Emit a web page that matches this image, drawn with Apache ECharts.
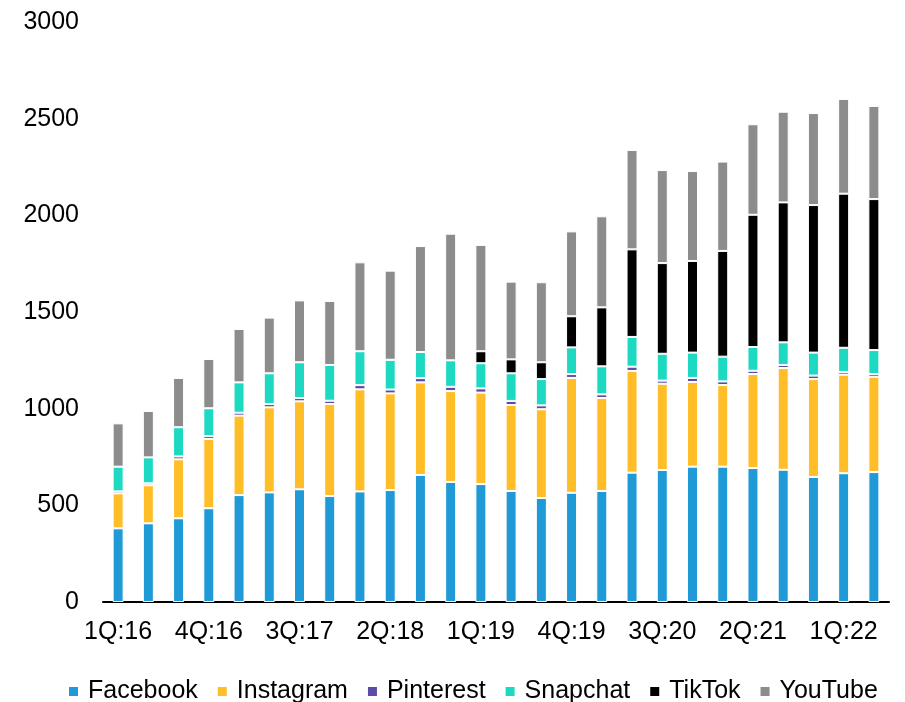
<!DOCTYPE html>
<html>
<head>
<meta charset="utf-8">
<script src="https://cdn.jsdelivr.net/npm/echarts@6/dist/echarts.min.js"></script>
<style>
    html, body { margin: 0; padding: 0; background: #fff; }
    #chart { width: 905px; height: 702px; }
</style>
</head>
<body>
<div id="chart"></div>
<script>
var quarters = ['1Q:16', '2Q:16', '3Q:16', '4Q:16', '1Q:17', '2Q:17', '3Q:17', '4Q:17',
    '1Q:18', '2Q:18', '3Q:18', '4Q:18', '1Q:19', '2Q:19', '3Q:19', '4Q:19',
    '1Q:20', '2Q:20', '3Q:20', '4Q:20', '1Q:21', '2Q:21', '3Q:21', '4Q:21', '1Q:22', '2Q:22'];

var facebook = [381, 407, 433, 485, 553, 567, 583, 548, 572, 579, 657, 621, 610, 574, 538, 565, 574, 669, 683, 700, 700, 693, 684, 647, 666, 672];
var instagram = [181, 197, 305, 358, 411, 440, 455, 476, 528, 500, 479, 470, 473, 445, 459, 594, 481, 526, 446, 438, 422, 486, 526, 506, 510, 493];
var pinterest = [10, 10, 15, 15, 15, 17, 17, 17, 22, 20, 22, 22, 22, 21, 20, 20, 19, 22, 16, 21, 19, 17, 16, 18, 14, 14];
var snapchat = [128, 134, 151, 144, 157, 159, 185, 185, 175, 154, 135, 137, 130, 143, 136, 138, 145, 154, 139, 131, 128, 123, 117, 119, 125, 124];
var tiktok = [0, 0, 0, 0, 0, 0, 0, 0, 0, 0, 0, 0, 62, 72, 87, 161, 305, 453, 469, 474, 547, 684, 724, 763, 797, 781];
var youtube = [224, 240, 255, 255, 276, 288, 320, 331, 460, 461, 548, 655, 550, 402, 414, 439, 471, 514, 481, 465, 462, 468, 469, 476, 490, 482];

var yTicks = [0, 500, 1000, 1500, 2000, 2500, 3000];

var chartDom = document.getElementById('chart');
var myChart = echarts.init(chartDom);
var font = '"Liberation Sans", Arial, sans-serif';

function makeSeries(name, data, color) {
    return {
        name: name,
        type: 'bar',
        stack: 'total',
        barWidth: 11,
        data: data,
        itemStyle: {
            color: color,
            borderColor: '#fff',
            borderWidth: 1
        }
    };
}

var option = {
    animation: false,
    textStyle: { fontFamily: font },
    grid: {
        left: 103,
        right: 16,
        top: 22,
        bottom: 100
    },
    legend: {
        left: 62,
        top: 674,
        itemWidth: 11,
        itemHeight: 11,
        itemGap: 18,
        icon: 'rect',
        textStyle: {
            fontFamily: font,
            fontSize: 25,
            color: '#000',
            padding: [0, 0, 0, 4]
        },
        data: ['Facebook', 'Instagram', 'Pinterest', 'Snapchat', 'TikTok', 'YouTube']
    },
    xAxis: {
        type: 'category',
        data: quarters,
        axisLine: { lineStyle: { color: '#000', width: 2 } },
        axisTick: { show: false },
        axisLabel: {
            interval: 2,
            margin: 18,
            fontSize: 25,
            color: '#000',
            fontFamily: font
        }
    },
    yAxis: {
        type: 'value',
        min: yTicks[0],
        max: yTicks[yTicks.length - 1],
        interval: 500,
        splitLine: { show: false },
        axisLine: { show: false },
        axisTick: { show: false },
        axisLabel: {
            margin: 24,
            fontSize: 25,
            color: '#000',
            fontFamily: font,
            formatter: function (v) { return String(v); }
        }
    },
    series: [
        makeSeries('Facebook', facebook, '#1f9ad6'),
        makeSeries('Instagram', instagram, '#ffbe28'),
        makeSeries('Pinterest', pinterest, '#5b4ca8'),
        makeSeries('Snapchat', snapchat, '#1dd9c1'),
        makeSeries('TikTok', tiktok, '#000000'),
        makeSeries('YouTube', youtube, '#8c8c8c')
    ]
};

option && myChart.setOption(option);
</script>
</body>
</html>
